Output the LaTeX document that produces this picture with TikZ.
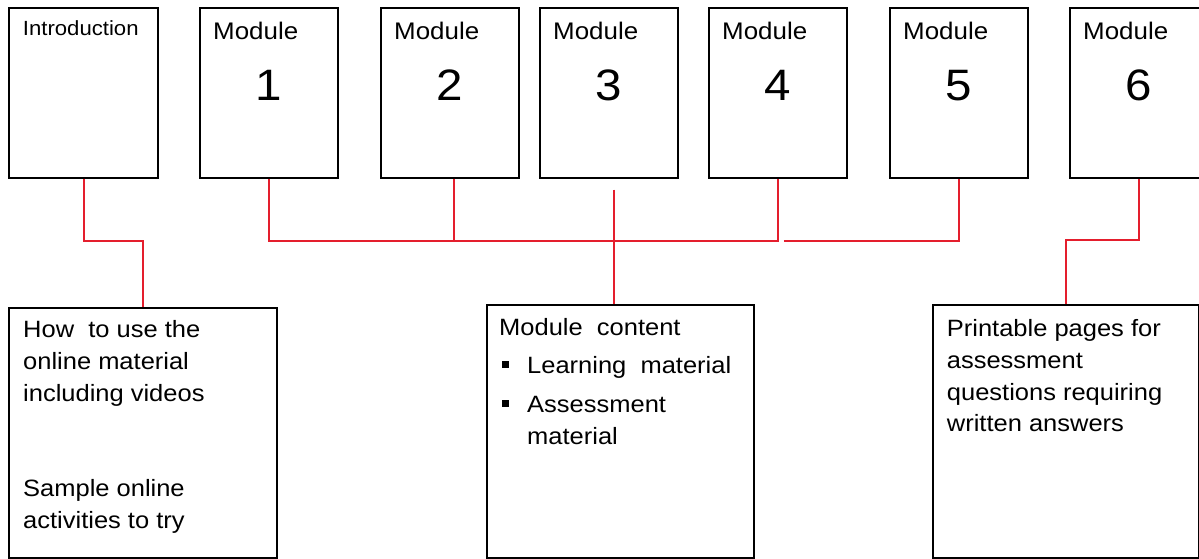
\documentclass[tikz,border=0pt]{standalone}
\usepackage{fontspec}
\setmainfont{Liberation Sans}[FakeStretch=1.08]
\definecolor{linkred}{RGB}{228,30,45}
\newcommand{\sqbullet}{\hspace*{3pt}\makebox[25pt][l]{\rule[5.5pt]{7pt}{7pt}}}

\begin{document}
\begin{tikzpicture}
			[
				x                 = 1pt,
				y                 = -1pt,
				topbox/.style     = {draw, line width=1.6pt, anchor=north west, inner sep=0pt,
				                     minimum width=138pt, minimum height=170pt},
				bottombox/.style  = {draw, line width=1.6pt, anchor=north west, inner sep=0pt,
				                     minimum width=267pt, minimum height=253pt},
				link/.style       = {draw=linkred, line width=1.4pt},
				modtitle/.style   = {anchor=base west, inner sep=0pt, font=\fontsize{24}{28}\selectfont},
				modnum/.style     = {anchor=base, inner sep=0pt, font=\fontsize{44}{50}\selectfont},
				boxtext/.style    = {anchor=base west, inner sep=0pt, align=left,
				                     font=\fontsize{23.6}{31.7}\selectfont}
			]
			\path[use as bounding box, clip] (0,0) rectangle (1199,558);

			% top row
			\node [topbox, minimum width=149pt] (intro) at (8,7) {};
			\node [modtitle, font=\fontsize{20.5}{24}\selectfont] (introtitle)
				at ([shift={(14.7,28.5)}]intro.north west) {Introduction};
			\node [topbox] (m1) at (199,7) {};
			\node [topbox] (m2) at (380,7) {};
			\node [topbox] (m3) at (539,7) {};
			\node [topbox] (m4) at (708,7) {};
			\node [topbox] (m5) at (889,7) {};
			\node [topbox] (m6) at (1069,7) {};
			\node [modtitle] (m1title) at ([shift={(14,32)}]m1.north west) {Module};
			\node [modtitle] (m2title) at ([shift={(14,32)}]m2.north west) {Module};
			\node [modtitle] (m3title) at ([shift={(14,32)}]m3.north west) {Module};
			\node [modtitle] (m4title) at ([shift={(14,32)}]m4.north west) {Module};
			\node [modtitle] (m5title) at ([shift={(14,32)}]m5.north west) {Module};
			\node [modtitle] (m6title) at ([shift={(14,32)}]m6.north west) {Module};
			\node [modnum] (m1num) at ([shift={(0,93)}]m1.north) {1};
			\node [modnum] (m2num) at ([shift={(0,93)}]m2.north) {2};
			\node [modnum] (m3num) at ([shift={(0,93)}]m3.north) {3};
			\node [modnum] (m4num) at ([shift={(0,93)}]m4.north) {4};
			\node [modnum] (m5num) at ([shift={(0,93)}]m5.north) {5};
			\node [modnum] (m6num) at ([shift={(0,93)}]m6.north) {6};

			% bottom row (text nodes sit on their last line)
			\node [bottombox, minimum width=268pt, minimum height=250pt] (howto) at (8,307) {};
			\node [bottombox] (content) at (486,304) {};
			\node [bottombox, minimum width=266pt] (printable) at (932,304) {};
			\node [boxtext] (howtotext) at ([shift={(15,221)}]howto.north west)
				{How\ \ to use the\\online material\\including videos\\[63.4pt]Sample online\\activities to try};
			\node [boxtext] (contenttext) at ([shift={(13,140)}]content.north west)
				{Module\ \ content\\[6.8pt]\sqbullet Learning\ \ material\\[6.8pt]\sqbullet Assessment\\\hspace*{28pt}material};
			\node [boxtext] (printabletext) at ([shift={(14.7,127.7)}]printable.north west)
				{Printable pages for\\assessment\\questions requiring\\written answers};

			% red connectors
			\coordinate (bus) at (0,241);
			\coordinate (introfoot) at ([xshift=0.5pt]intro.south);
			\coordinate (m3foot) at ([shift={(5,11)}]m3.south);
			\draw [link] (introfoot) -- (introfoot |- bus) -| (howto.north);
			\draw [link] (m1.south) -- (m1.south |- bus) -- (m4.south |- bus) -- (m4.south);
			\draw [link] ([xshift=4pt]m2.south) -- ([xshift=4pt]m2.south |- bus);
			\draw [link] ([xshift=6pt]m4.south |- bus) -| (m5.south);
			\draw [link] (m3foot) -- (m3foot |- content.north);
			\draw [link] (m6.south) -- ([yshift=1pt]m6.south |- bus) -| (printable.north);
		\end{tikzpicture}
\end{document}
